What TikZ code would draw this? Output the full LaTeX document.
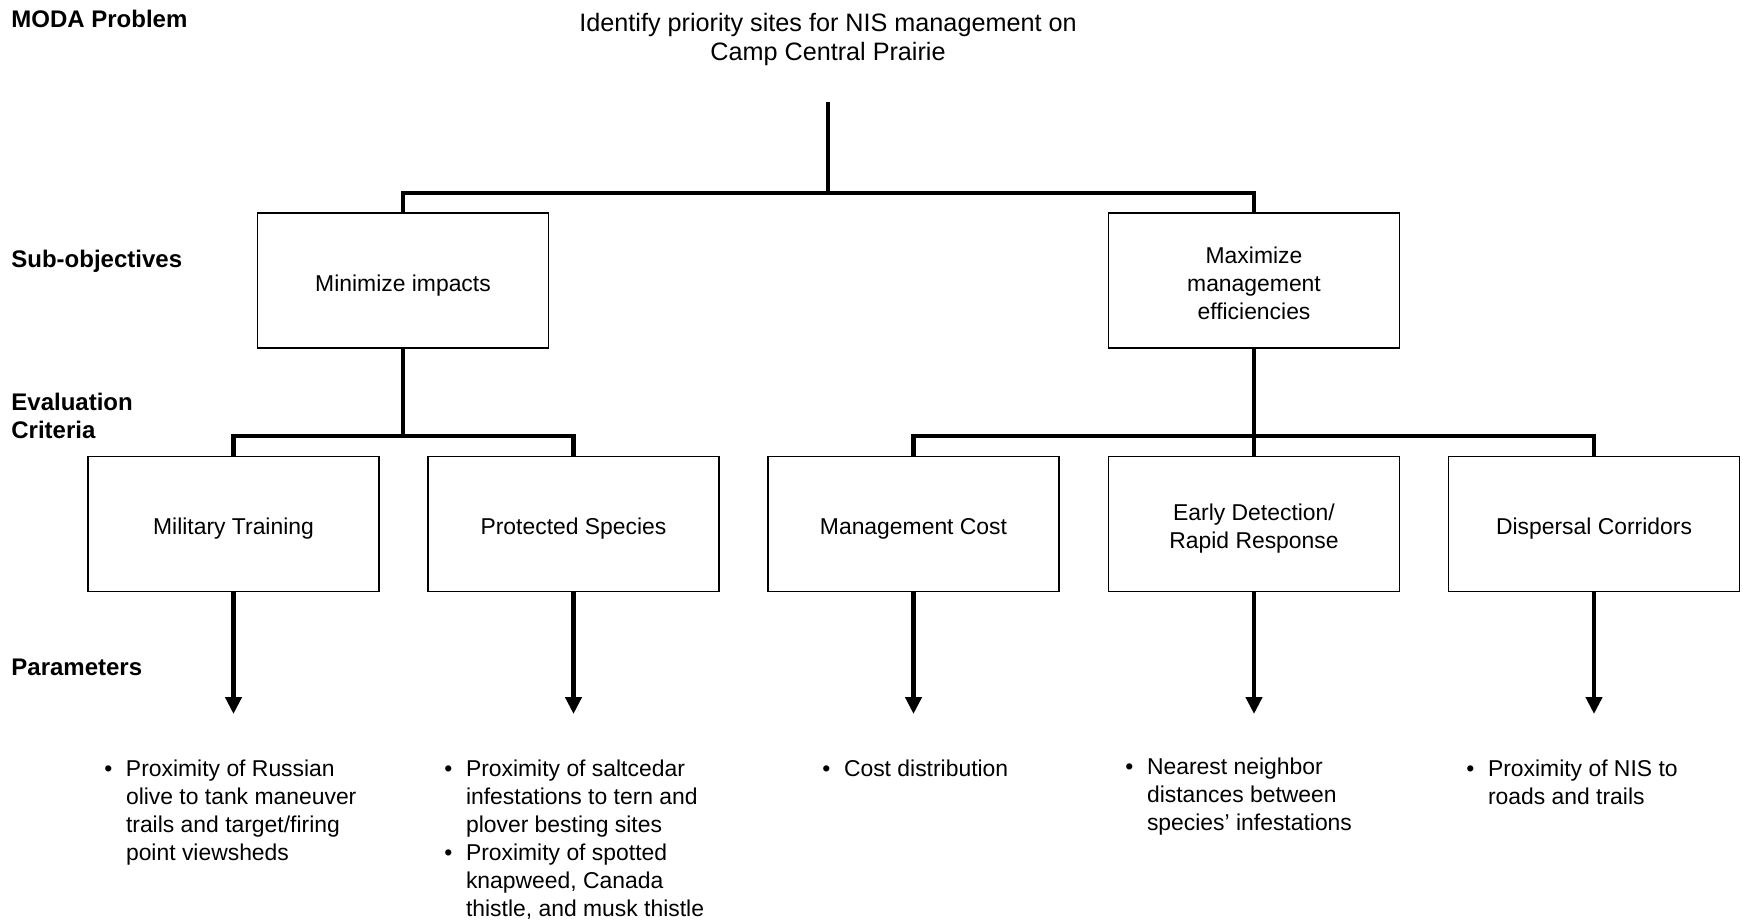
\documentclass[tikz,border=0pt]{standalone}
\usepackage{fontspec}
\setmainfont{Liberation Sans}
\usetikzlibrary{arrows.meta}
% centred box caption, lowered slightly inside its box without changing its size
\newcommand\cellcaption[1]{\raisebox{-2.5pt}[\height][\depth]{\begin{tabular}{@{}c@{}}#1\end{tabular}}}
% bulleted parameter list, first row on the node's baseline
\newenvironment{paramlist}{\begin{tabular}[t]{@{}l@{\hspace{6.8pt}}l@{}}}{\end{tabular}}
\begin{document}
\begin{tikzpicture}[x=0.5pt,y=-0.5pt,
  every node/.style={font=\fontsize{12}{14}\selectfont, inner sep=0pt},
  box/.style={draw, line width=0.9pt, minimum width=145.5pt, minimum height=67.5pt,
    font=\fontsize{11.45}{14}\selectfont},
  tier/.style={anchor=base west, font=\fontsize{12}{14}\selectfont\bfseries},
  conn/.style={line width=2.3pt},
  feed/.style={line width=2.3pt, -{Triangle[length=8.5pt,width=8pt]}},
  plist/.style={anchor=base west, font=\fontsize{11.45}{14}\selectfont}
]
\useasboundingbox (0,0) rectangle (1743,921);

% tier labels
\node[tier] (lmoda) at (11,27) {MODA Problem};
\node[tier] (lsub) at (11,267) {Sub-objectives};
\node[tier] (leval) at (11,410) {\begin{tabular}[t]{@{}l@{}}Evaluation\\Criteria\end{tabular}};
\node[tier] (lpar) at (11,675) {Parameters};

% goal
\node[anchor=base, font=\fontsize{12.6}{14.35}\selectfont] (goal) at (828,32)
  {\begin{tabular}[t]{@{}c@{}}Identify priority sites for NIS management on\\Camp Central Prairie\end{tabular}};

% sub-objectives
\node[box] (minimp) at (403,280.5) {\cellcaption{Minimize impacts}};
\node[box] (maxeff) at (1254,280.5) {\cellcaption{Maximize\\management\\efficiencies}};

% evaluation criteria
\node[box] (mil)  at (233.5,524) {\cellcaption{Military Training}};
\node[box] (prot) at (573.5,524) {\cellcaption{Protected Species}};
\node[box] (cost) at (913.5,524) {\cellcaption{Management Cost}};
\node[box] (edrr) at (1254,524)  {\cellcaption{Early Detection/\\Rapid Response}};
\node[box] (disp) at (1594,524)  {\cellcaption{Dispersal Corridors}};

% tree connectors
\coordinate (stem) at (828,102);
\coordinate (fork1) at (828,193);
\coordinate (fork2) at (403,436);
\coordinate (fork3) at (1254,436);
\draw[conn] (stem) -- (fork1);
\draw[conn] (minimp.north) |- (fork1) -| (maxeff.north);
\draw[conn] (minimp.south) -- (fork2);
\draw[conn] (mil.north) |- (fork2) -| (prot.north);
\draw[conn] (maxeff.south) -- (edrr.north);
\draw[conn] (cost.north) |- (fork3) -| (disp.north);

% arrows to parameters
\coordinate (t1) at (233.5,714);
\coordinate (t2) at (573.5,714);
\coordinate (t3) at (913.5,714);
\coordinate (t4) at (1254,714);
\coordinate (t5) at (1594,714);
\draw[feed] (mil.south) -- (t1);
\draw[feed] (prot.south) -- (t2);
\draw[feed] (cost.south) -- (t3);
\draw[feed] (edrr.south) -- (t4);
\draw[feed] (disp.south) -- (t5);

% parameters
\node[plist] (par1) at (104,776.5) {\begin{paramlist}
  \textbullet & Proximity of Russian\\
  & olive to tank maneuver\\
  & trails and target/firing\\
  & point viewsheds\end{paramlist}};
\node[plist] (par2) at (444,776.5) {\begin{paramlist}
  \textbullet & Proximity of saltcedar\\
  & infestations to tern and\\
  & plover besting sites\\
  \textbullet & Proximity of spotted\\
  & knapweed, Canada\\
  & thistle, and musk thistle\end{paramlist}};
\node[plist] (par3) at (822,776.5) {\begin{paramlist}
  \textbullet & Cost distribution\end{paramlist}};
\node[plist] (par4) at (1125,774) {\begin{paramlist}
  \textbullet & Nearest neighbor\\
  & distances between\\
  & species’ infestations\end{paramlist}};
\node[plist] (par5) at (1466,776.5) {\begin{paramlist}
  \textbullet & Proximity of NIS to\\
  & roads and trails\end{paramlist}};
\end{tikzpicture}
\end{document}
